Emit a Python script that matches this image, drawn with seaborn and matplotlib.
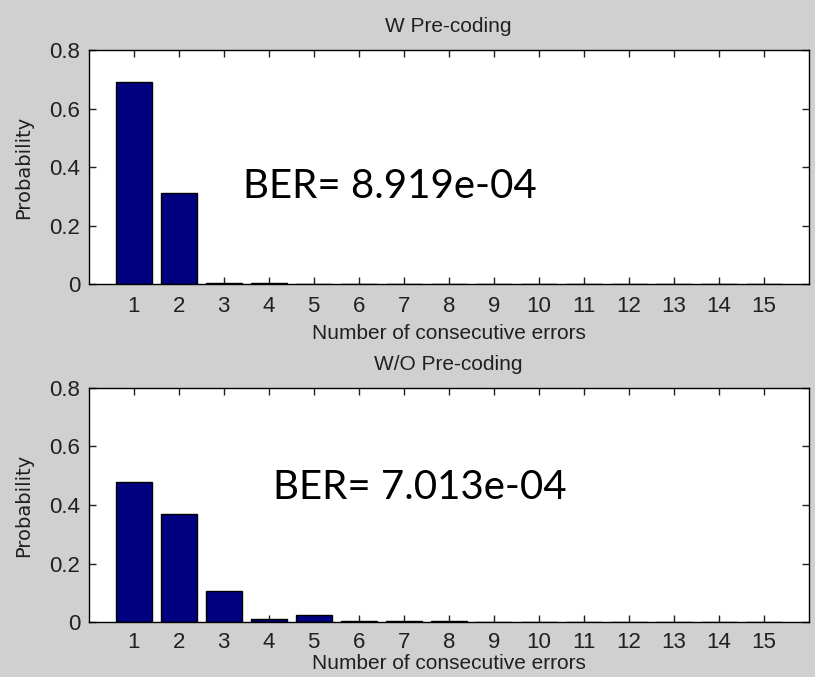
import numpy as np
import pandas as pd
import matplotlib
matplotlib.use("Agg")
import matplotlib.pyplot as plt
import seaborn as sns

# run lengths of consecutive errors
run_len = list(range(1, 16))
prob_with = [0.69, 0.31, 0.004, 0.004, 0, 0, 0, 0, 0, 0, 0, 0, 0, 0, 0]
prob_without = [0.48, 0.37, 0.105, 0.011, 0.023, 0.005, 0.005, 0.005, 0, 0, 0, 0, 0, 0, 0]
titles = ["W Pre-coding", "W/O Pre-coding"]
ber_labels = ["BER= 8.919e-04", "BER= 7.013e-04"]
ber_pos = [(3.43, 0.294), (4.1, 0.42)]

sns.set_style("white")
plt.rcParams["font.family"] = ["Liberation Sans", "DejaVu Sans"]

fig = plt.figure(figsize=(8.15, 6.77), dpi=100, facecolor="#d0d0d0")
ax1 = fig.add_axes([0.1086, 0.5805, 0.8840, 0.3456])
ax2 = fig.add_axes([0.1086, 0.0812, 0.8840, 0.3457])

for i, (ax, vals, ttl, lab, pos) in enumerate(zip([ax1, ax2], [prob_with, prob_without],
                                                 titles, ber_labels, ber_pos)):
    df = pd.DataFrame({"n": run_len, "p": vals})
    sns.barplot(data=df, x="n", y="p", native_scale=True, color="#000080",
                edgecolor="black", linewidth=1.0, saturation=1, width=0.8, ax=ax)
    ax.set_facecolor("white")
    ax.set_xlim(0, 16)
    ax.set_ylim(0, 0.8)
    ax.set_xticks(run_len)
    ax.set_yticks([0, 0.2, 0.4, 0.6, 0.8])
    ax.set_yticklabels(["0", "0.2", "0.4", "0.6", "0.8"])
    ax.tick_params(direction="in", length=5, width=1, color="#202020",
                   top=True, right=True, bottom=True, left=True, pad=6)
    ax.tick_params(axis="x", pad=8.5 if i == 0 else 7.5)
    for t in ax.get_xticklabels() + ax.get_yticklabels():
        t.set_family(["Liberation Sans Narrow", "Liberation Sans"])
        t.set_fontsize(16)
        t.set_color("#202020")
    for s in ax.spines.values():
        s.set_color("black")
        s.set_linewidth(1.0)
    ax.set_title(ttl, fontsize=15, pad=13, color="#202020")
    ax.set_xlabel("Number of consecutive errors", fontsize=15,
                  labelpad=5 if i == 0 else 0.5, color="#202020")
    ax.set_ylabel("Probability", fontsize=14, labelpad=12, color="#202020",
                  family=["DejaVu Sans"])
    ax.text(pos[0], pos[1], lab, fontsize=29, family=["Lato", "DejaVu Sans"], color="black")

fig.savefig("out.png", dpi=100, facecolor=fig.get_facecolor())
